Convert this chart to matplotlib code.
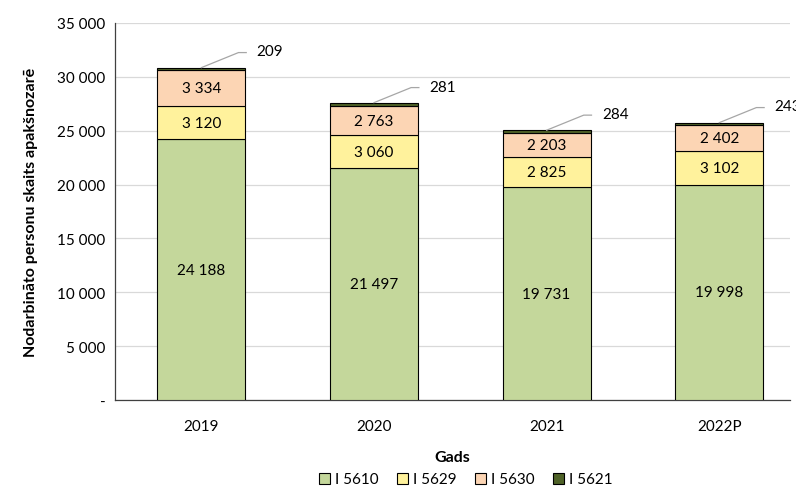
import matplotlib
matplotlib.use("Agg")
import matplotlib.pyplot as plt
import numpy as np
from matplotlib.ticker import FuncFormatter

plt.rcParams['font.family'] = ['Lato', 'DejaVu Sans']

years = ["2019", "2020", "2021", "2022P"]
series_names = ["I 5610", "I 5629", "I 5630", "I 5621"]
i5610 = [24188, 21497, 19731, 19998]
i5629 = [3120, 3060, 2825, 3102]
i5630 = [3334, 2763, 2203, 2402]
i5621 = [209, 281, 284, 243]
colors = ["#C4D79B", "#FFF29C", "#FCD5B4", "#4F6228"]

fig = plt.figure(figsize=(7.96, 4.89), dpi=100)
ax = fig.add_axes([0.1445, 0.18, 0.848, 0.771])

x = np.arange(len(years))
w = 0.51
bottom = np.zeros(len(years))
all_series = [i5610, i5629, i5630, i5621]
for vals, name, col in zip(all_series, series_names, colors):
    vals = np.array(vals, dtype=float)
    ax.bar(x, vals, w, bottom=bottom, color=col, edgecolor="black", linewidth=0.8,
           label=name, zorder=3)
    if name != "I 5621":
        for xi, b, v in zip(x, bottom, vals):
            ax.text(xi, b + v / 2, f"{int(v):,}".replace(",", " "), ha="center",
                    va="center", fontsize=11, color="black", zorder=4)
    bottom += vals

# leader labels for I 5621
for xi, tot, v in zip(x, bottom, i5621):
    ax.plot([xi, xi + 0.215, xi + 0.26], [tot, tot + 1400, tot + 1400],
            color="#A6A6A6", linewidth=0.9, zorder=4, clip_on=False)
    ax.text(xi + 0.32, tot + 1500, f"{v}", ha="left", va="center",
            fontsize=11, color="black", zorder=4, clip_on=False)

ax.set_ylim(0, 35000)
ax.set_xlim(-0.5, 3.41)
ax.set_yticks(np.arange(0, 35001, 5000))
ax.yaxis.set_major_formatter(FuncFormatter(
    lambda v, p: "-" if v == 0 else f"{int(v):,}".replace(",", " ")))
ax.set_xticks(x)
ax.set_xticklabels(years)
ax.tick_params(axis="both", length=0, labelsize=11, colors="#000000")
ax.tick_params(axis="y", pad=7)
ax.tick_params(axis="x", pad=14)
ax.grid(axis="y", color="#D9D9D9", linewidth=0.9, zorder=0)
for s in ["top", "right"]:
    ax.spines[s].set_visible(False)
ax.spines["left"].set_color("#404040")
ax.spines["bottom"].set_color("#404040")
ax.spines["left"].set_linewidth(0.9)
ax.spines["bottom"].set_linewidth(0.9)

ax.set_ylabel("Nodarbināto personu skaits apakšnozarē", fontsize=11.5,
              fontweight="bold", labelpad=14)
ax.set_xlabel("Gads", fontsize=11.5, fontweight="bold", labelpad=12)

leg = fig.legend(loc="lower center", bbox_to_anchor=(0.585, -0.025), ncol=4,
                 frameon=False, fontsize=11, handlelength=0.75, handleheight=0.75,
                 handletextpad=0.3, columnspacing=1.2)

fig.savefig("out.png", dpi=100)
